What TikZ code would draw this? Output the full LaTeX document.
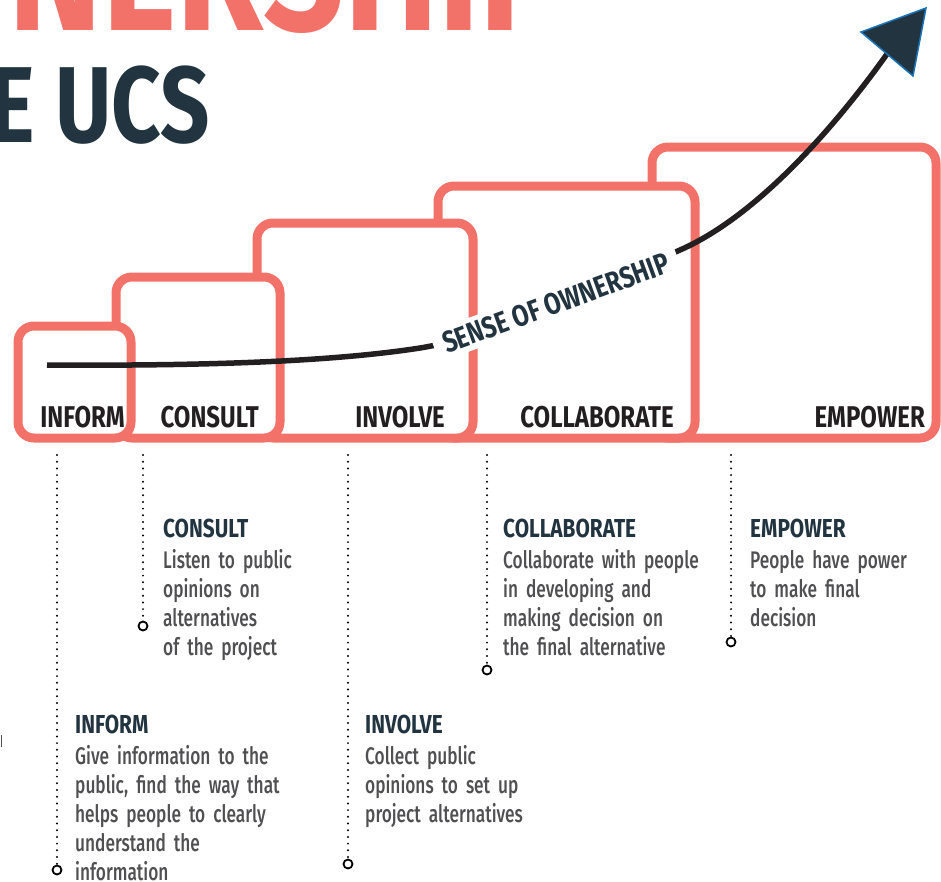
\documentclass[tikz,border=0pt]{standalone}
\usepackage{fontspec}
\setmainfont{Fira Sans}[FakeStretch=0.8]
\newfontfamily\bodyfont{Fira Sans Medium}[FakeStretch=0.72]
\usetikzlibrary{positioning}

\definecolor{salmon}{HTML}{F2726A}
\definecolor{navy}{HTML}{22343F}
\definecolor{ink}{HTML}{231F20}
\definecolor{bodygray}{HTML}{505052}
\definecolor{tipblue}{HTML}{1B75BB}

\tikzset{
  stepbox/.style={draw=salmon, line width=9pt, rounded corners=16pt, fill=white},
  steplabel/.style={anchor=base east, inner sep=0pt, text=ink, font=\bfseries\fontsize{30}{30}\selectfont},
  leader/.style={line width=2.2pt, dash pattern=on 0pt off 6.7pt, line cap=round, draw=black},
  ring/.style={circle, draw=black, line width=1.8pt, minimum size=9pt, inner sep=0pt, fill=white},
  desc/.style={anchor=base west, inner sep=0pt, align=left, text width=240pt, text=bodygray, font=\bodyfont\fontsize{24}{29}\selectfont},
  sense/.style={rotate=20, fill=white, inner xsep=10pt, inner ysep=5pt, text=navy, font=\bfseries\fontsize{30}{30}\selectfont}
}
\newcommand{\deschead}[1]{{\normalfont\color{navy}\bfseries\fontsize{26}{29}\selectfont #1}\\[2pt]}

\begin{document}
\begin{tikzpicture}[x=1pt, y=-1pt]
\useasboundingbox (0,0) rectangle (941,881);
\clip (0,0) rectangle (941,881);

% Titolo
\node[anchor=base east, inner sep=0pt, text=salmon, font=\bfseries\fontsize{177}{177}\selectfont] (titleone) at (565,30) {OWNERSHIP};
\node[anchor=base east, inner sep=0pt, text=navy, font=\bfseries\fontsize{108}{108}\selectfont] (titletwo) at (210,142) {THE UCS};

% Gradini
\draw[stepbox] (652,147) rectangle (936,438);
\draw[stepbox] (438,186) rectangle (695,438);
\draw[stepbox] (257,223) rectangle (473,438);
\draw[stepbox] (116,277) rectangle (280,438);
\draw[stepbox] (18,326) rectangle (131,438);

% Etichette
\node[steplabel] (informlabel) at (125,427) {INFORM};
\node[steplabel] (consultlabel) at (259,427) {CONSULT};
\node[steplabel] (involvelabel) at (445,427) {INVOLVE};
\node[steplabel] (collaboratelabel) at (674,427) {COLLABORATE};
\node[steplabel] (empowerlabel) at (925,427) {EMPOWER};

% Freccia
\coordinate (start) at (47,365);
\coordinate (tip) at (887,54);
\draw[ink, line width=5.5pt] (start) .. controls (200,366) and (330,362) .. (420,348)
  .. controls (500,335) and (600,285) .. (680,250)
  .. controls (760,215) and (840,120) .. (tip);
\node[sense] (ownership) at (556,303) {SENSE OF OWNERSHIP};
\filldraw[fill=navy, draw=tipblue, line width=1.5pt] (861,32) -- (926,8) -- (913,76) -- cycle;

% Linee tratteggiate
\coordinate (informtop) at (57,455);
\node[ring] (informend) at (57,870) {};
\draw[leader] (informtop) -- (informend);
\coordinate (consulttop) at (143,455);
\node[ring] (consultend) at (143,626) {};
\draw[leader] (consulttop) -- (consultend);
\coordinate (involvetop) at (348,455);
\node[ring] (involveend) at (348,864) {};
\draw[leader] (involvetop) -- (involveend);
\coordinate (collaboratetop) at (487,455);
\node[ring] (collaborateend) at (487,670) {};
\draw[leader] (collaboratetop) -- (collaborateend);
\coordinate (empowertop) at (731,455);
\node[ring] (empowerend) at (731,642) {};
\draw[leader] (empowertop) -- (empowerend);

% Descrizioni
\node[desc] (consultdesc) at (163,537) {\deschead{CONSULT}Listen to public\\opinions on\\alternatives\\of the project};
\node[desc] (collaboratedesc) at (503,537) {\deschead{COLLABORATE}Collaborate with people\\in developing and\\making decision on\\the final alternative};
\node[desc] (empowerdesc) at (750,537) {\deschead{EMPOWER}People have power\\to make final\\decision};
\node[desc] (informdesc) at (75,733) {\deschead{INFORM}Give information to the\\public, find the way that\\helps people to clearly\\understand the\\information};
\node[desc] (involvedesc) at (365,733) {\deschead{INVOLVE}Collect public\\opinions to set up\\project alternatives};

% segno
\draw[bodygray, line width=1.2pt] (1.5,735) -- (1.5,747);

\end{tikzpicture}
\end{document}
